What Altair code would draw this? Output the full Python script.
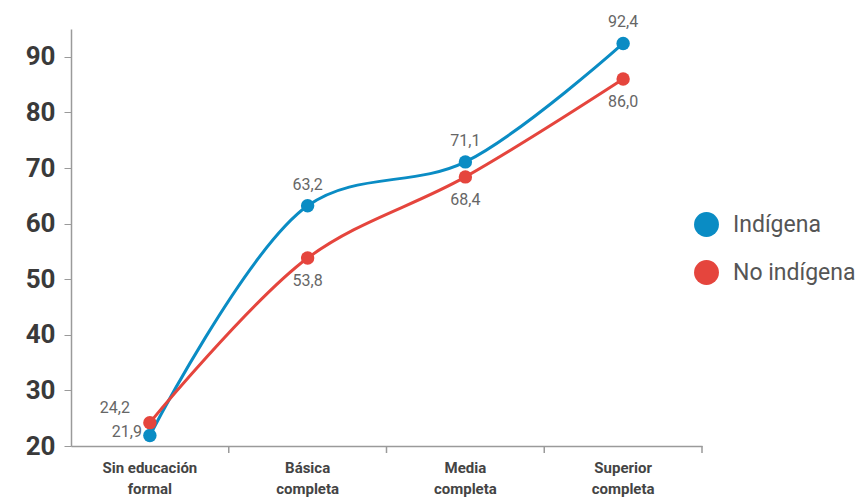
import altair as alt
import pandas as pd

# Education levels (x axis) and the share for each population group
categories = ["Sin educación formal", "Básica completa", "Media completa", "Superior completa"]
series_names = ["Indígena", "No indígena"]
indigena = [21.9, 63.2, 71.1, 92.4]
no_indigena = [24.2, 53.8, 68.4, 86.0]
y_ticks = [20, 30, 40, 50, 60, 70, 80, 90]

colors = ["#0A8CC4", "#E5453D"]
FONT = "Roboto, sans-serif"

rows = []
for name, values in zip(series_names, [indigena, no_indigena]):
    for i, (cat, v) in enumerate(zip(categories, values)):
        rows.append({"nivel": cat, "grupo": name, "valor": v, "idx": i})
df = pd.DataFrame(rows)
ticks_df = pd.DataFrame({"nivel": categories})

x_scale = alt.Scale(domain=categories, paddingInner=0, paddingOuter=0)
y_scale = alt.Scale(domain=[20, 95], nice=False, zero=False)
color_scale = alt.Scale(domain=series_names, range=colors)

x_axis = alt.Axis(
    title=None,
    ticks=False,
    labelAngle=0,
    labelFont=FONT,
    labelFontSize=15,
    labelFontWeight="bold",
    labelColor="#444444",
    labelPadding=14,
    labelLineHeight=21,
    labelExpr="datum.label == 'Sin educación formal' ? ['Sin educación', 'formal'] : split(datum.label, ' ')",
    domainColor="#9a9a9a",
    domainWidth=1.5,
)
x_enc = alt.X("nivel:N", scale=x_scale, sort=categories, axis=x_axis)
y_enc = alt.Y(
    "valor:Q",
    scale=y_scale,
    axis=alt.Axis(
        title=None,
        values=y_ticks,
        grid=False,
        labelFont=FONT,
        labelFontSize=26,
        labelFontWeight="bold",
        labelColor="#3a3a3a",
        labelPadding=9,
        tickSize=7,
        tickColor="#9a9a9a",
        domainColor="#9a9a9a",
        domainWidth=1.5,
    ),
)

base = alt.Chart(df).encode(
    x=x_enc,
    y=y_enc,
    color=alt.Color(
        "grupo:N",
        scale=color_scale,
        legend=alt.Legend(
            title=None,
            orient="none",
            legendX=623,
            legendY=183,
            symbolType="circle",
            symbolSize=620,
            symbolStrokeWidth=0,
            labelFont=FONT,
            labelFontSize=23,
            labelColor="#555555",
            labelOffset=14,
            rowPadding=23,
        ),
    ),
)

lines = base.mark_line(interpolate="catmull-rom", strokeWidth=3)
points = base.mark_point(filled=True, size=180, opacity=1, shape="circle")

label_base = base.transform_calculate(
    etiqueta="replace(format(datum.valor, '.1f'), '.', ',')"
)
text_style = dict(font=FONT, fontSize=16, color="#666666")

above = label_base.transform_filter(
    "datum.grupo == 'Indígena' && datum.idx > 0"
).mark_text(dy=-21, **text_style).encode(text="etiqueta:N", color=alt.value("#666666"))
below = label_base.transform_filter(
    "datum.grupo == 'No indígena' && datum.idx > 0"
).mark_text(dy=23, **text_style).encode(text="etiqueta:N", color=alt.value("#666666"))
left_low = label_base.transform_filter(
    "datum.grupo == 'Indígena' && datum.idx == 0"
).mark_text(dx=-8, dy=-3, align="right", **text_style).encode(text="etiqueta:N", color=alt.value("#666666"))
left_high = label_base.transform_filter(
    "datum.grupo == 'No indígena' && datum.idx == 0"
).mark_text(dx=-20, dy=-15, align="right", **text_style).encode(text="etiqueta:N", color=alt.value("#666666"))

# Tick marks at the right edge of each category band
band_ticks = alt.Chart(ticks_df).mark_rule(color="#9a9a9a", strokeWidth=1.5).encode(
    x=alt.X("nivel:N", scale=x_scale, sort=categories, bandPosition=1, axis=x_axis),
    y=alt.value(417),
    y2=alt.value(424),
)

chart = (
    alt.layer(band_ticks, lines, points, above, below, left_low, left_high)
    .properties(
        width=631,
        height=417,
        background="white",
        autosize=alt.AutoSizeParams(type="none"),
        padding={"left": 71, "top": 29, "right": 156, "bottom": 54},
    )
    .configure_view(strokeWidth=0, stroke="transparent")
)

chart.save("out.html", embed_options={"renderer": "svg", "actions": False})
